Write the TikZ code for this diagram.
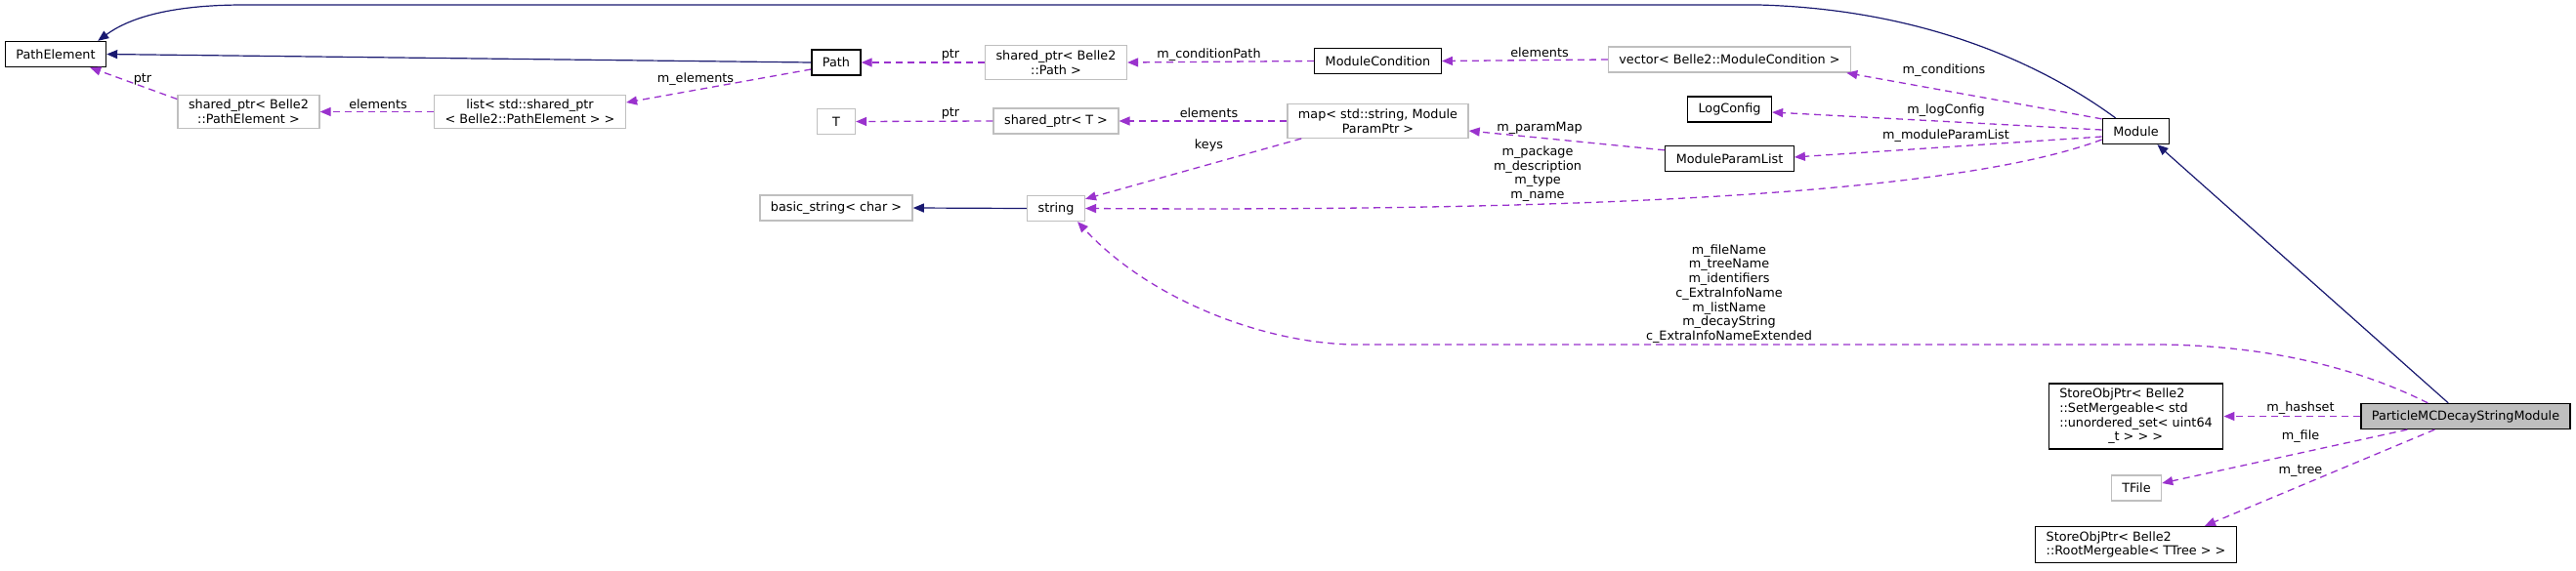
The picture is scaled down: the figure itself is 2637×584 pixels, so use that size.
\documentclass[tikz,border=0pt]{standalone}
\usepackage{fontspec}
\setmainfont{DejaVu Sans}
\usetikzlibrary{positioning,arrows.meta}
\definecolor{navyline}{HTML}{191970}
\definecolor{orchid}{HTML}{9A32CD}
\definecolor{grayline}{HTML}{BFBFBF}
\tikzset{
  cls/.style={draw=black,line width=1.3pt,fill=white,inner xsep=11pt,inner ysep=5pt,
    minimum height=26pt,minimum width=39pt,align=center},
  ext/.style={cls,draw=grayline},
  mainc/.style={cls,fill=grayline},
  inh/.style={draw=navyline,line width=1.2pt,-{Triangle[length=11pt,width=9pt]}},
  use/.style={draw=orchid,line width=1.3pt,dash pattern=on 7pt off 5pt,-{Triangle[length=11pt,width=9pt]}},
  lbl/.style={inner sep=0pt,align=center}
}
\begin{document}
\begin{tikzpicture}[x=1pt,y=-1pt,font=\fontsize{12.8}{14.7}\selectfont]
  \useasboundingbox (0,0) rectangle (2637,584);
  % classes
  \node[cls] (PathElement) at (57,55.5) {PathElement};
  \node[ext] (spPE) at (254.5,114.5) {shared\_ptr< Belle2\\::PathElement >};
  \node[ext] (listPE) at (542.5,114.5) {list< std::shared\_ptr\\< Belle2::PathElement > >};
  \node[cls] (Path) at (856,64) {Path};
  \node[ext] (T) at (856,124.5) {T};
  \node[ext] (bstr) at (856,213) {basic\_string< char >};
  \node[ext] (spPath) at (1081,64) {shared\_ptr< Belle2\\::Path >};
  \node[ext] (spT) at (1081,124) {shared\_ptr< T >};
  \node[ext] (str) at (1081,213.5) {string};
  \node[cls] (modCond) at (1410.5,62.5) {ModuleCondition};
  \node[ext] (map) at (1410.5,124) {map< std::string, Module\\ParamPtr >};
  \node[ext] (vecCond) at (1770.5,61) {vector< Belle2::ModuleCondition >};
  \node[cls] (logCfg) at (1770.5,112) {LogConfig};
  \node[cls] (mpl) at (1770.5,162.5) {ModuleParamList};
  \node[cls] (Module) at (2186.5,134.5) {Module};
  \node[cls,align=left] (setM) at (2186.5,426.5) {StoreObjPtr< Belle2\\::SetMergeable< std\\::unordered\_set< uint64\\\hspace*{50pt}\_t > > >};
  \node[ext] (tfile) at (2187,500) {TFile};
  \node[cls,align=left] (rootM) at (2186.5,558) {StoreObjPtr< Belle2\\::RootMergeable< TTree > >};
  \node[mainc] (pmds) at (2524,426.5) {ParticleMCDecayStringModule};
  % inheritance
  \draw[inh] ([xshift=14pt]Module.north west) .. controls (2110,80) and (1990,10) .. (1800,5)
    -- (250,5) .. controls (170,5) and (130,20) .. ([xshift=-9pt]PathElement.north east);
  \draw[inh] (Path.west) -- (PathElement.east);
  \draw[inh] (str.west) -- (bstr.east);
  \draw[inh] ([xshift=90pt]pmds.north west) -- ([xshift=-13pt]Module.south east);
  % members
  \draw[use] ([yshift=-5pt]spPE.north west) -- ([xshift=-17pt]PathElement.south east);
  \draw[use] (listPE.west) -- (spPE.east);
  \draw[use] ([yshift=-7pt]Path.west) -- ([yshift=9.5pt]listPE.east);
  \draw[use] (spPath.west) -- (Path.east);
  \draw[use] (modCond.west) -- (spPath.east);
  \draw[use] (vecCond.west) -- (modCond.east);
  \draw[use] ([yshift=-1pt]Module.north west) -- ([xshift=-5pt]vecCond.south east);
  \draw[use] ([yshift=1.5pt]Module.west) -- ([yshift=-3pt]logCfg.east);
  \draw[use] ([yshift=-5.5pt]Module.west) -- ([yshift=1.5pt]mpl.east);
  \draw[use] ([yshift=-8.5pt]Module.west) .. controls (1980,208) and (1500,216) .. (str.east);
  \draw[use] ([yshift=-5pt]mpl.north west) -- ([yshift=-10pt]map.east);
  \draw[use] (map.west) -- (spT.east);
  \draw[use] (spT.west) -- (T.east);
  \draw[use] ([xshift=15pt]map.south west) -- ([yshift=-4pt]str.north east);
  \draw[use] ([xshift=69pt]pmds.north west) .. controls (2400,370) and (2300,353) .. (2205,353)
    -- (1390,353) .. controls (1300,353) and (1180,310) .. ([xshift=-8pt]str.south east);
  \draw[use] (pmds.west) -- (setM.east);
  \draw[use] ([xshift=48pt]pmds.south west) -- ([yshift=5pt]tfile.east);
  \draw[use] ([xshift=76pt]pmds.south west) -- ([xshift=-33pt]rootM.north east);
  % labels
  \node[lbl] (lptrA) at (146,81) {ptr};
  \node[lbl] (lelemA) at (387,107) {elements};
  \node[lbl] (lmelem) at (712,81) {m\_elements};
  \node[lbl] (lptrB) at (973,56) {ptr};
  \node[lbl] (lcondPath) at (1237.5,56) {m\_conditionPath};
  \node[lbl] (lelemB) at (1576,54) {elements};
  \node[lbl] (lcond) at (1990,72) {m\_conditions};
  \node[lbl] (llog) at (1992,113) {m\_logConfig};
  \node[lbl] (lmpl) at (1992,139) {m\_moduleParamList};
  \node[lbl] (lmodstr) at (1574,178) {m\_package\\m\_description\\m\_type\\m\_name};
  \node[lbl] (lpmap) at (1576,131) {m\_paramMap};
  \node[lbl] (lelemC) at (1237.5,116) {elements};
  \node[lbl] (lptrC) at (973,116) {ptr};
  \node[lbl] (lkeys) at (1237.5,149) {keys};
  \node[lbl] (lpmdstr) at (1770,301) {m\_fileName\\m\_treeName\\m\_identifiers\\c\_ExtraInfoName\\m\_listName\\m\_decayString\\c\_ExtraInfoNameExtended};
  \node[lbl] (lhash) at (2355,418) {m\_hashset};
  \node[lbl] (lfile) at (2355,447) {m\_file};
  \node[lbl] (ltree) at (2355,483) {m\_tree};
\end{tikzpicture}
\end{document}
